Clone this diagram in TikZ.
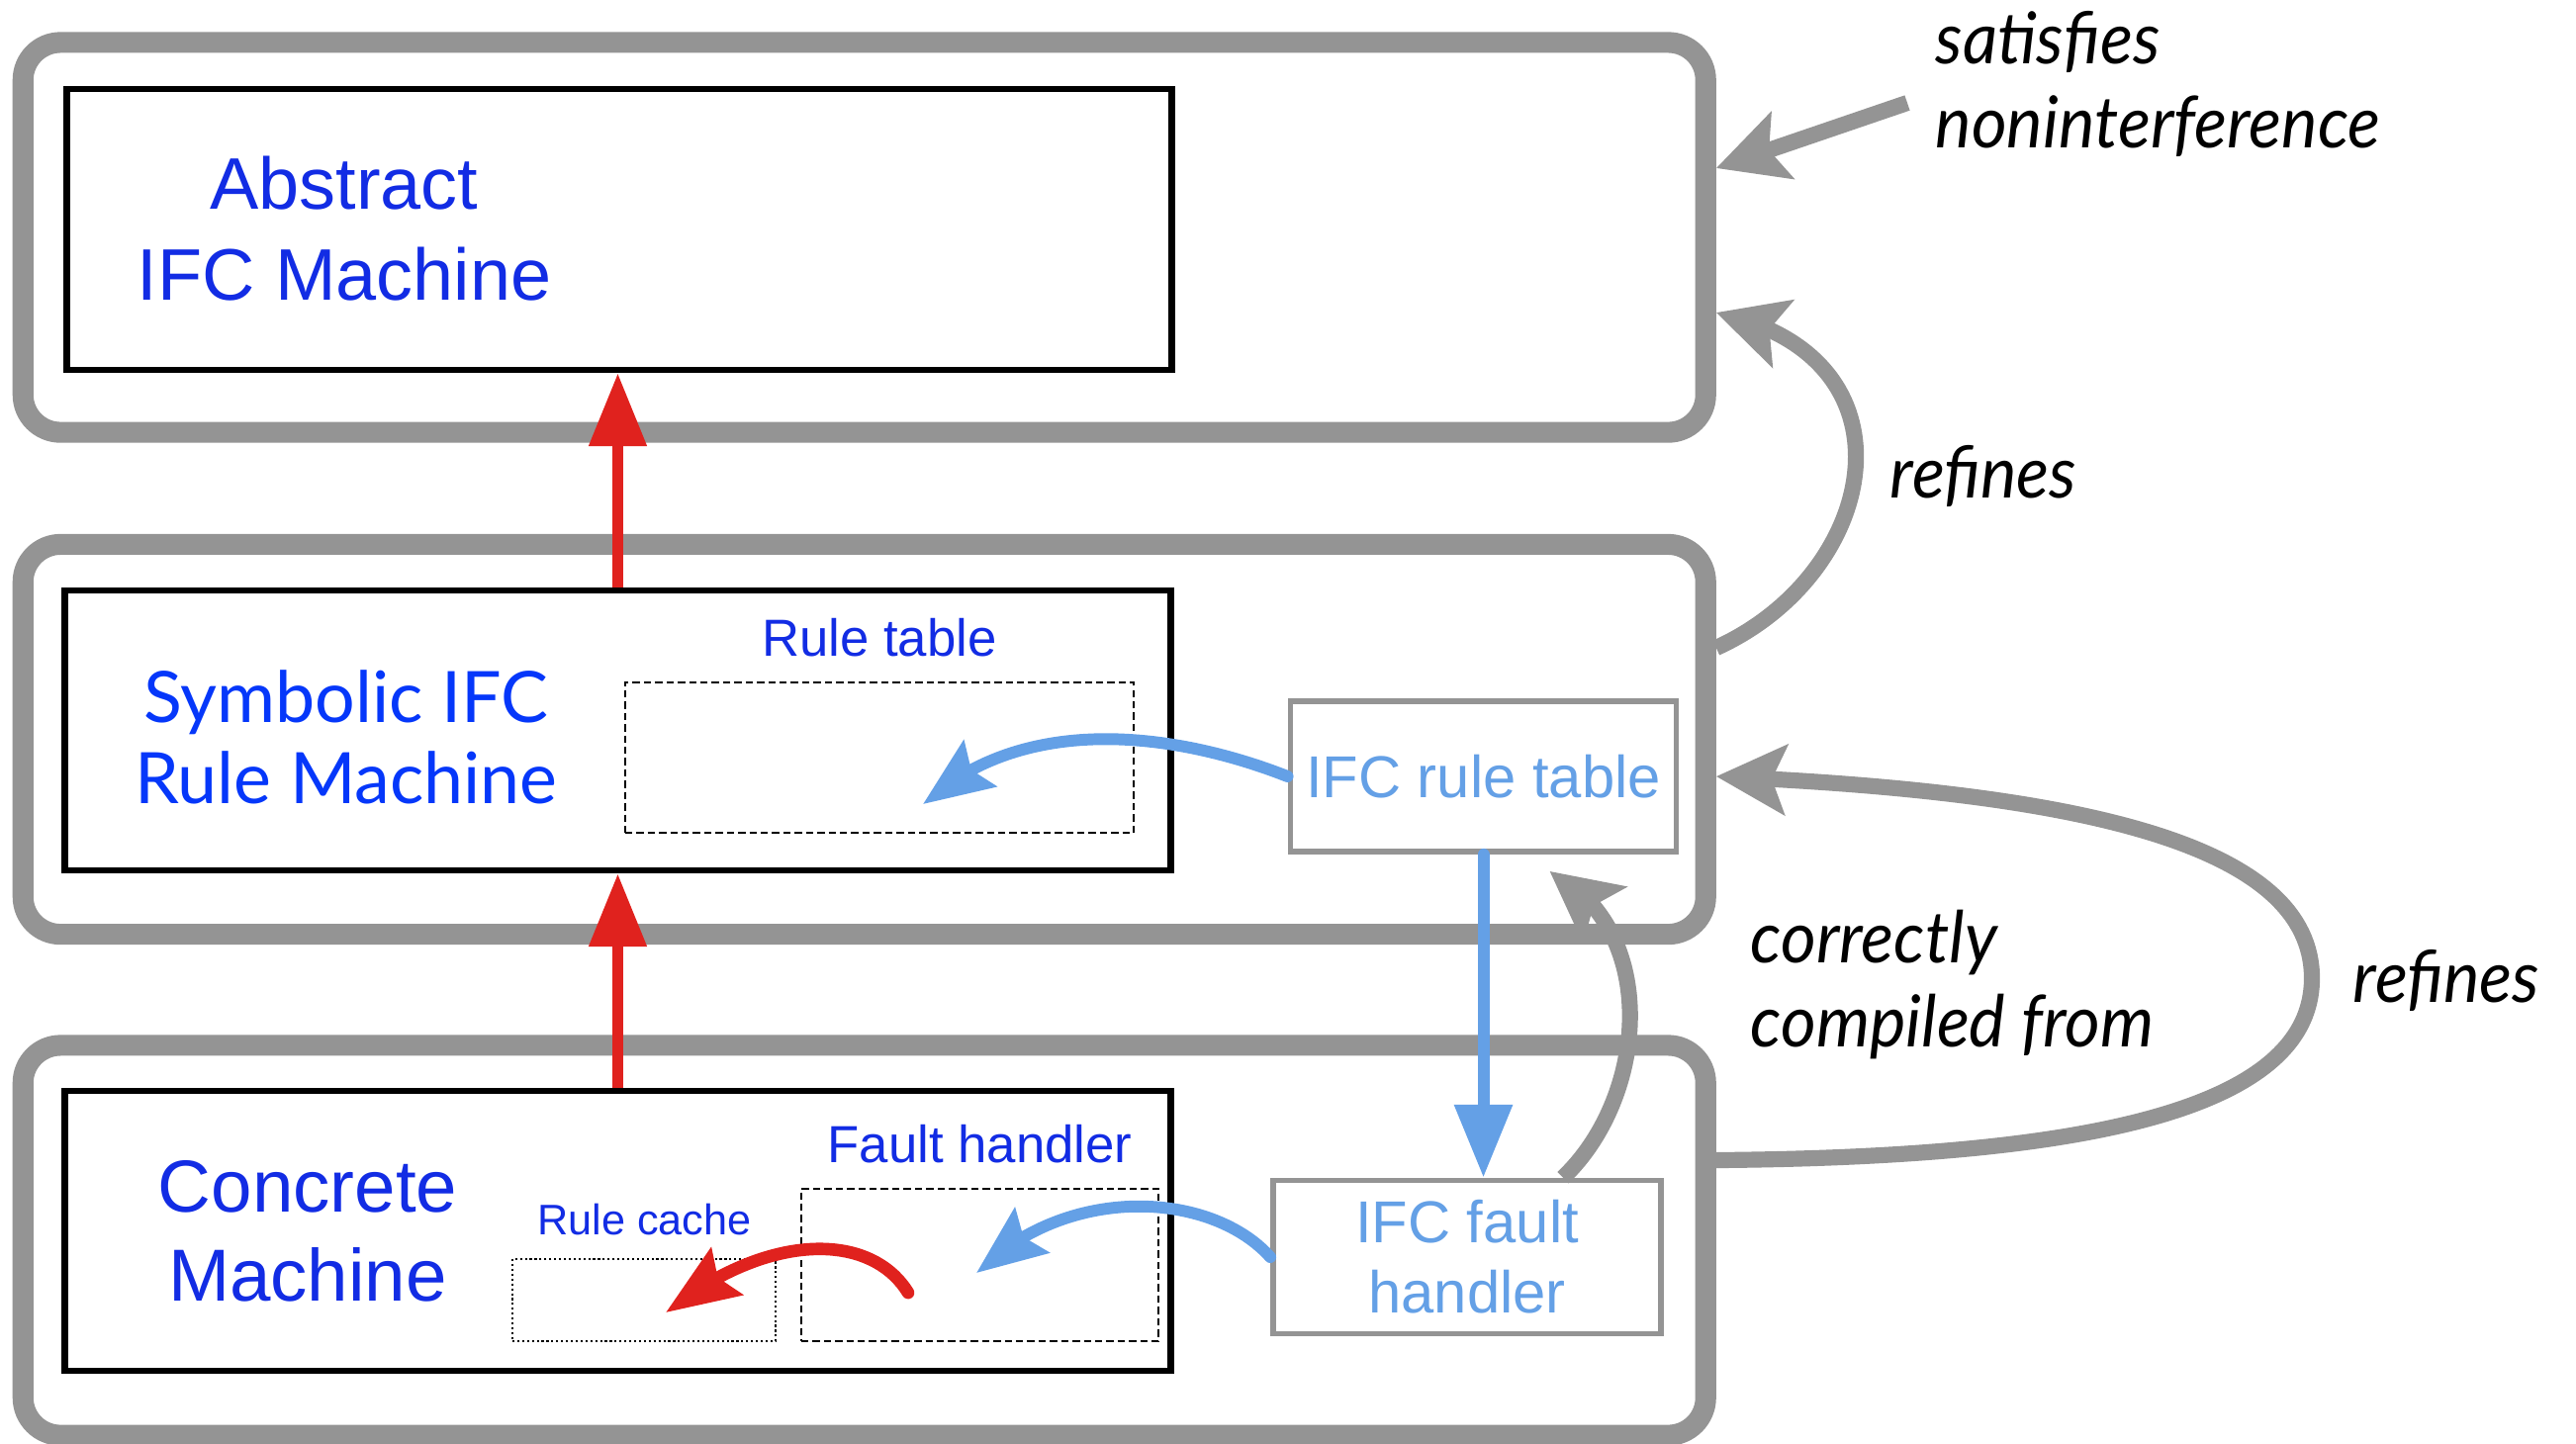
\documentclass[tikz,border=0pt]{standalone}
\usepackage{fontspec}
\setmainfont{Liberation Sans}
\newfontfamily\gillfont{Lato}
\newfontfamily\claimfont{Lato}[FakeStretch=0.95]
\usetikzlibrary{arrows.meta,bending}

\definecolor{framegray}{RGB}{148,148,148}
\definecolor{ifcred}{RGB}{224,34,30}
\definecolor{ifcblue}{RGB}{100,160,230}
\definecolor{textblue}{RGB}{18,44,228}
\definecolor{gillblue}{RGB}{5,55,250}

\tikzset{
    layerbox/.style={draw=framegray, line width=6pt, rounded corners=0.38cm,
        minimum width=17cm, minimum height=3.94cm, inner sep=0pt},
    machinebox/.style={draw=black, line width=1.85pt,
        minimum width=11.17cm, minimum height=2.83cm, inner sep=0pt},
    partbox/.style={draw=black, line width=0.6pt, dash pattern=on 2.1pt off 1.15pt, inner sep=0pt},
    cachebox/.style={draw=black, line width=0.6pt, dash pattern=on 0.6pt off 0.8pt, inner sep=0pt},
    swbox/.style={draw=framegray, line width=1.6pt, inner sep=0pt, text=ifcblue,
        font=\fontsize{17}{20.2}\selectfont, align=center},
    bigtext/.style={text=textblue, font=\fontsize{21}{26.2}\selectfont, align=center, inner sep=0pt},
    symtext/.style={text=gillblue, font=\gillfont\fontsize{20.4}{23.3}\selectfont, align=center, inner sep=0pt},
    parttext/.style={text=textblue, font=\fontsize{15}{18}\selectfont, inner sep=0pt},
    claimtext/.style={font=\claimfont\itshape\fontsize{20.6}{24}\selectfont, align=left, inner sep=0pt},
    redarrow/.style={draw=ifcred, line width=3.1pt, -{Triangle[length=21pt,width=16pt]}},
    redcurve/.style={draw=ifcred, line width=3.6pt, line cap=round,
        -{Stealth[length=21pt,width=16pt,inset=3pt]}},
    bluearrow/.style={draw=ifcblue, line width=3.4pt, line cap=round,
        -{Triangle[length=21pt,width=16pt]}},
    bluecurve/.style={draw=ifcblue, line width=3.4pt, line cap=round,
        -{Stealth[length=20pt,width=16pt,inset=3pt]}},
    grayarrow/.style={draw=framegray, line width=4.6pt,
        -{Stealth[length=20pt,width=20pt,inset=4pt]}}
}

\begin{document}
\begin{tikzpicture}[x=0.01cm, y=-0.01cm]
    \useasboundingbox (0,0) rectangle (2604,1459);

    % Layers
    \node[layerbox] (abslayer) at (873.75,240) {};
    \node[layerbox] (symlayer) at (873.75,747.5) {};
    \node[layerbox] (conclayer) at (873.75,1254) {};

    % Machines
    \node[machinebox, minimum width=11.16cm, minimum height=2.84cm] (abs) at (626,232) {};
    \node[machinebox] (sym) at (624.5,738.5) {};
    \node[machinebox] (conc) at (624.5,1244.5) {};

    \node[bigtext] (absname) at (348,231.5) {Abstract\\IFC Machine};
    \node[symtext] (symname) at (350,745) {Symbolic IFC\\Rule Machine};
    \node[bigtext, font=\fontsize{21.2}{25.6}\selectfont] (concname) at (311,1244.5) {Concrete\\Machine};

    % Rule table, fault handler and rule cache
    \node[partbox, minimum width=5.14cm, minimum height=1.52cm] (rtab) at (889,766) {};
    \node[parttext, anchor=base] (rtabname) at (889,663) {Rule table};
    \node[partbox, minimum width=3.61cm, minimum height=1.54cm] (fhbox) at (990.5,1279) {};
    \node[parttext, anchor=base] (fhboxname) at (990.5,1175) {Fault handler};
    \node[cachebox, minimum width=2.66cm, minimum height=0.83cm] (rcache) at (651,1314.5) {};
    \node[parttext, font=\fontsize{12.3}{15}\selectfont, anchor=base] (rcachename) at (651.5,1248) {Rule cache};

    % Software pieces
    \node[swbox, minimum width=3.9cm, minimum height=1.52cm] (rtable) at (1499.5,785) {IFC rule table};
    \node[swbox, minimum width=3.92cm, minimum height=1.55cm] (fhand) at (1483,1271) {IFC fault\\handler};

    % Claims (base of a two-line node is its last line)
    \node[claimtext, anchor=base west] (satname) at (1956,149) {satisfies\\noninterference};
    \node[claimtext, anchor=base west] (refname) at (1910,503) {refines};
    \node[claimtext, anchor=base west] (ccname) at (1769,1058) {correctly\\compiled from};
    \node[claimtext, anchor=base west] (refname2) at (2378,1013) {refines};

    % Red arrows
    \draw[redarrow] (sym.north) -- (sym.north |- abs.south);
    \draw[redarrow] (conc.north) -- (conc.north |- sym.south);
    \draw[redcurve] ([shift={(-72.5,28)}]fhbox.center) .. controls (880,1245) and (775,1245) .. ([shift={(22,12.5)}]rcache.center);

    % Blue arrows
    \draw[bluecurve] (rtable.west) .. controls (1200,745) and (1040,715) .. ([shift={(44,47)}]rtab.center);
    \draw[bluearrow] (rtable.south) -- (rtable.south |- fhand.north);
    \draw[bluecurve] (fhand.west) .. controls (1225,1205) and (1080,1195) .. ([shift={(-3.5,8)}]fhbox.center);

    % Gray arrows
    \coordinate (satfrom) at (1928,104);
    \draw[grayarrow] (satfrom) -- ([shift={(0,-70)}]abslayer.east);
    \draw[grayarrow] ([shift={(0,-92.5)}]symlayer.east) .. controls (1900,580) and (1945,360) .. ([shift={(0,76)}]abslayer.east);
    \draw[grayarrow] ([shift={(0,-81)}]conclayer.east) .. controls (2080,1170) and (2337,1130) .. (2337,989)
        .. controls (2337,850) and (2090,800) .. ([shift={(0,37.5)}]symlayer.east);
    \draw[grayarrow] ([shift={(97,0)}]fhand.north) .. controls (1665,1110) and (1680,940) .. ([shift={(67,17)}]rtable.south);
\end{tikzpicture}
\end{document}
